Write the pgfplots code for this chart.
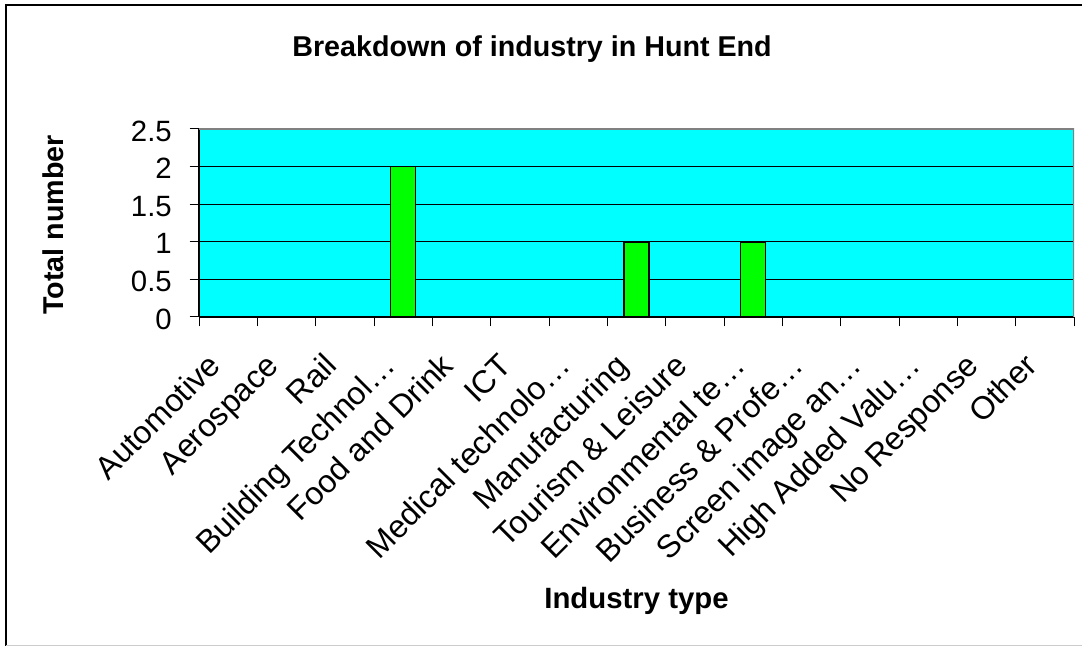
\documentclass[border=0pt]{standalone}
\usepackage{pgfplots}
\pgfplotsset{compat=1.18}
\usepackage{fontspec}
\setmainfont{Liberation Sans}
\definecolor{aquabg}{RGB}{0,255,255}
\definecolor{limebar}{RGB}{0,255,0}
\begin{document}
\begin{tikzpicture}
\useasboundingbox (0,0) rectangle (811.5pt,484.5pt);
% outer chart frame
\draw[black, line width=1.5pt] (4.7pt,0pt) -- (4.7pt,480.9pt) -- (811.5pt,480.9pt);
\draw[black!20, line width=0.9pt] (4.7pt,0.6pt) -- (811.5pt,0.6pt);
\begin{axis}[
  at={(149.25pt,246.75pt)}, anchor=south west,
  scale only axis, width=656.25pt, height=141pt,
  axis x line*=bottom, axis y line*=left,
  axis line style={-, black, line width=0.8pt},
  axis background/.style={fill=aquabg},
  xmin=-0.5, xmax=14.5, ymin=0, ymax=2.5,
  ytick={0,0.5,1,1.5,2,2.5},
  ymajorgrids, grid style={black, line width=0.75pt},
  xtick={-0.5,0.5,...,14.5},
  x tick label as interval,
  xticklabels={Automotive,Aerospace,Rail,Building Technol…,Food and Drink,ICT,Medical technolo…,Manufacturing,Tourism \& Leisure,Environmental te…,Business \& Profe…,Screen image an…,High Added Valu…,No Response,Other},
  xticklabel style={xshift=-4.5pt, yshift=-31pt, rotate=45, anchor=base east, inner sep=0pt, font=\fontsize{24}{28}\selectfont},
  tick align=outside, major tick length=7pt,
  tick style={black, line width=0.75pt},
  /pgf/number format/assume math mode=true,
  yticklabel style={/pgf/number format/fixed, anchor=east, inner sep=0pt, xshift=-13.25pt, yshift=-1.5pt, font=\fontsize{22}{26}\selectfont},
  title={\bfseries Breakdown of industry in Hunt End},
  every axis title/.style={at={(rel axis cs:0.3806,1.388)}, anchor=base, font=\fontsize{21.5}{25}\selectfont},
  xlabel={\bfseries Industry type},
  every axis x label/.style={at={(rel axis cs:0.5,-1.548)}, anchor=base, font=\fontsize{22}{26}\selectfont},
  ylabel={\bfseries Total number},
  every axis y label/.style={at={(rel axis cs:-0.1554,0.489)}, rotate=90, anchor=base, font=\fontsize{21.5}{25}\selectfont},
]
\addplot[ybar, bar width=18.75pt, fill=limebar, draw=black, line width=1.2pt]
  coordinates {(0,0) (1,0) (2,0) (3,2) (4,0) (5,0) (6,0) (7,1) (8,0) (9,1) (10,0) (11,0) (12,0) (13,0) (14,0)};
\draw[gray, line width=1.5pt] (rel axis cs:0,1) -- (rel axis cs:1,1) -- (rel axis cs:1,0);
\end{axis}
\end{tikzpicture}
\end{document}
